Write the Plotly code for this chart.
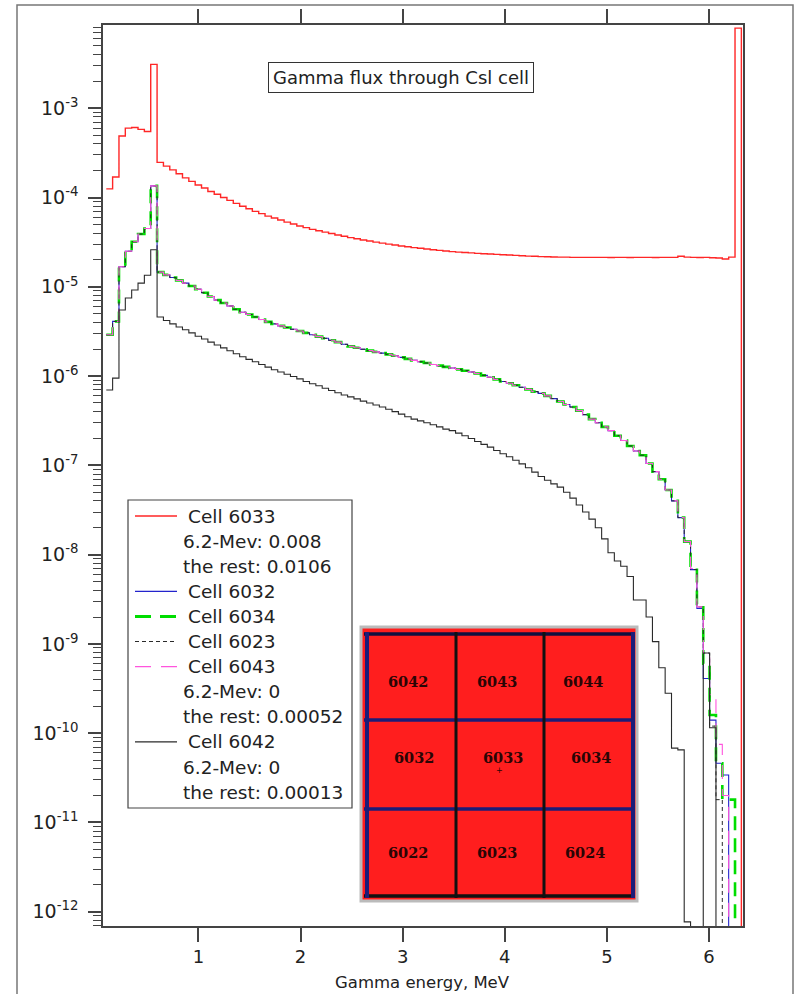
import plotly.graph_objects as go

# ---------------- data (histogram bins, left edge = bin_start + i*bin_width) ----------------
bin_start = 0.097
bin_width = 0.0622
Z = 1e-15  # empty bin (zero flux), drawn below the axis floor

cell6033 = [1.25e-4, 1.7e-4, 4.9e-4, 6.0e-4, 6.1e-4, 5.8e-4, 5.5e-4, 3.1e-3,
            2.48e-4, 2.25e-4, 2.04e-4, 1.85e-4, 1.66e-4, 1.52e-4, 1.38e-4, 1.28e-4, 1.17e-4, 1.09e-4,
            1.0e-4, 9.3e-5, 8.6e-5, 8.0e-5, 7.5e-5, 7.0e-5, 6.6e-5, 6.2e-5, 5.9e-5, 5.6e-5,
            5.3e-5, 5.05e-5, 4.8e-5, 4.6e-5, 4.4e-5, 4.25e-5, 4.1e-5, 3.95e-5, 3.8e-5, 3.68e-5,
            3.56e-5, 3.45e-5, 3.35e-5, 3.26e-5, 3.17e-5, 3.09e-5, 3.01e-5, 2.94e-5, 2.87e-5, 2.81e-5,
            2.75e-5, 2.70e-5, 2.65e-5, 2.60e-5, 2.56e-5, 2.52e-5, 2.48e-5, 2.45e-5, 2.42e-5, 2.40e-5,
            2.37e-5, 2.35e-5, 2.33e-5, 2.31e-5, 2.29e-5, 2.27e-5, 2.25e-5, 2.23e-5, 2.21e-5, 2.20e-5,
            2.18e-5, 2.17e-5, 2.16e-5, 2.15e-5, 2.15e-5, 2.14e-5, 2.14e-5, 2.14e-5, 2.14e-5, 2.14e-5,
            2.14e-5, 2.13e-5, 2.14e-5, 2.14e-5, 2.13e-5, 2.14e-5, 2.14e-5, 2.14e-5, 2.13e-5, 2.14e-5,
            2.14e-5, 2.14e-5, 2.20e-5, 2.15e-5, 2.14e-5, 2.13e-5, 2.14e-5, 2.12e-5, 2.10e-5, 2.05e-5,
            2.15e-5, 7.9e-3]

# the four neighbouring cells share practically the same spectrum up to ~5.8 MeV
neighbour_body = [2.9e-6, 4.1e-6, 1.68e-5, 2.5e-5, 3.2e-5, 3.9e-5, 4.5e-5, 1.35e-4,
                  1.46e-5, 1.36e-5, 1.27e-5, 1.18e-5, 1.1e-5, 1.02e-5, 9.4e-6, 8.6e-6, 7.8e-6, 7.1e-6,
                  6.6e-6, 6.1e-6, 5.6e-6, 5.2e-6, 4.9e-6, 4.6e-6, 4.3e-6, 4.05e-6, 3.85e-6, 3.65e-6,
                  3.5e-6, 3.35e-6, 3.2e-6, 3.05e-6, 2.9e-6, 2.77e-6, 2.65e-6, 2.52e-6, 2.4e-6, 2.27e-6,
                  2.15e-6, 2.08e-6, 2.0e-6, 1.93e-6, 1.87e-6, 1.81e-6, 1.75e-6, 1.69e-6, 1.62e-6, 1.56e-6,
                  1.5e-6, 1.45e-6, 1.4e-6, 1.35e-6, 1.31e-6, 1.27e-6, 1.23e-6, 1.19e-6, 1.15e-6, 1.11e-6,
                  1.07e-6, 1.02e-6, 9.7e-7, 9.2e-7, 8.7e-7, 8.3e-7, 7.9e-7, 7.5e-7, 7.1e-7, 6.7e-7,
                  6.4e-7, 6.0e-7, 5.6e-7, 5.2e-7, 4.8e-7, 4.5e-7, 4.1e-7, 3.7e-7, 3.3e-7, 3.0e-7,
                  2.7e-7, 2.45e-7, 2.15e-7, 1.9e-7, 1.65e-7, 1.45e-7, 1.3e-7, 1.05e-7, 8.5e-8, 7.0e-8,
                  5.3e-8, 4.0e-8, 2.6e-8, 1.4e-8]
cell6032 = neighbour_body + [6.8e-9, 2.5e-9, 4.1e-10, 1.4e-10, 4.6e-11, 3.4e-11, Z, Z]
cell6034 = neighbour_body + [7.5e-9, 2.8e-9, 6.0e-10, 1.6e-10, 4.6e-11, 1.8e-11, 1.8e-11, Z]
cell6023 = neighbour_body + [6.8e-9, 2.6e-9, 7.9e-10, 1.2e-10, 1.8e-11, Z, Z, Z]
cell6043 = neighbour_body + [7.0e-9, 2.6e-9, 7.0e-10, 2.7e-10, 7.5e-11, 2.0e-11, Z, Z]

cell6042 = [7.0e-7, 9.5e-7, 5.5e-6, 7.5e-6, 9.2e-6, 1.1e-5, 1.35e-5, 2.6e-5,
            4.6e-6, 4.2e-6, 3.85e-6, 3.55e-6, 3.3e-6, 3.05e-6, 2.8e-6, 2.6e-6, 2.4e-6, 2.23e-6,
            2.07e-6, 1.92e-6, 1.78e-6, 1.65e-6, 1.54e-6, 1.45e-6, 1.35e-6, 1.26e-6, 1.18e-6, 1.11e-6,
            1.05e-6, 9.9e-7, 9.3e-7, 8.7e-7, 8.2e-7, 7.8e-7, 7.3e-7, 6.9e-7, 6.5e-7, 6.15e-7,
            5.85e-7, 5.55e-7, 5.25e-7, 5.0e-7, 4.75e-7, 4.5e-7, 4.25e-7, 4.0e-7, 3.75e-7, 3.5e-7,
            3.3e-7, 3.15e-7, 3.0e-7, 2.85e-7, 2.7e-7, 2.55e-7, 2.45e-7, 2.3e-7, 2.15e-7, 2.0e-7,
            1.85e-7, 1.72e-7, 1.6e-7, 1.47e-7, 1.35e-7, 1.25e-7, 1.14e-7, 1.04e-7, 9.4e-8, 8.4e-8,
            7.5e-8, 6.8e-8, 6.2e-8, 5.7e-8, 5.0e-8, 4.3e-8, 3.6e-8, 3.0e-8, 2.5e-8, 2.0e-8,
            1.5e-8, 1.05e-8, 8.5e-9, 7.4e-9, 5.7e-9, 3.1e-9, 3.1e-9, 2.0e-9, 1.06e-9, 5.4e-10,
            2.8e-10, 6.8e-11, 6.5e-11, 7.7e-13, Z, Z, 7.9e-10, 1.15e-10, Z, Z, Z, Z]

legend_rows = ["Cell 6033", "6.2-Mev: 0.008", "the rest: 0.0106", "Cell 6032", "Cell 6034",
               "Cell 6023", "Cell 6043", "6.2-Mev: 0", "the rest: 0.00052", "Cell 6042",
               "6.2-Mev: 0", "the rest: 0.00013"]

grid_labels = [["6042", "6043", "6044"], ["6032", "6033", "6034"], ["6022", "6023", "6024"]]

x_ticks = [1, 2, 3, 4, 5, 6]
y_exponents = list(range(-12, -2))

# ---------------- layout geometry ----------------
W, H = 799, 994
L, R, T, B = 103, 56, 25, 68
PW, PH = W - L - R, H - T - B


def px(x):
    return (x - L) / PW


def py(y):
    return (H - B - y) / PH


RED = "#FF2626"
BLUE = "#2323CC"
GREEN = "#00DD00"
MAGENTA = "#FF55DD"
BLACK = "#2a2a2a"
AXIS = "#444444"
FONT = "DejaVu Sans"

styles = [
    (cell6033, "Cell 6033", RED, 1.4, "solid"),
    (cell6032, "Cell 6032", BLUE, 1.1, "solid"),
    (cell6034, "Cell 6034", GREEN, 2.6, "14px,8px"),
    (cell6023, "Cell 6023", BLACK, 1.0, "4px,3px"),
    (cell6043, "Cell 6043", MAGENTA, 1.1, "14px,10px"),
    (cell6042, "Cell 6042", BLACK, 1.1, "solid"),
]

fig = go.Figure()
for vals, name, color, width, dash in styles:
    fig.add_trace(go.Scatter(
        x0=bin_start, dx=bin_width, y=vals + [Z], mode="lines", name=name,
        line=dict(color=color, width=width, dash=dash, shape="hv", simplify=False),
        showlegend=False, hoverinfo="skip"))

shapes = []
annotations = []

# outer frame
shapes.append(dict(type="rect", xref="paper", yref="paper", x0=px(17), x1=px(793), y0=py(1000), y1=py(5),
                   line=dict(color="#777777", width=1.5), fillcolor="rgba(0,0,0,0)", layer="below"))

# title box
annotations.append(dict(xref="paper", yref="paper", x=px(401), y=py(77), text="Gamma flux through Csl cell",
                        showarrow=False, xanchor="center", yanchor="middle",
                        font=dict(family=FONT, size=18, color="#222"),
                        bordercolor="#333", borderwidth=1, borderpad=4, bgcolor="white"))

# x-axis title
annotations.append(dict(xref="paper", yref="paper", x=px(422), y=py(982), text="Gamma energy, MeV",
                        showarrow=False, xanchor="center", yanchor="middle",
                        font=dict(family=FONT, size=16.5, color="#222")))

# legend box
shapes.append(dict(type="rect", xref="paper", yref="paper", x0=px(128), x1=px(352), y0=py(808), y1=py(500),
                   line=dict(color="#444", width=1.2), fillcolor="white", layer="above"))
sample_style = {0: (RED, 1.3, "solid"), 3: (BLUE, 1.3, "solid"), 4: (GREEN, 3, "16px,9px"),
                5: (BLACK, 1.1, "4px,3px"), 6: (MAGENTA, 1.3, "16px,10px"), 9: (BLACK, 1.3, "solid")}
for i, txt in enumerate(legend_rows):
    yy = 516 + 25.1 * i
    if i in sample_style:
        c, w, d = sample_style[i]
        shapes.append(dict(type="line", xref="paper", yref="paper", x0=px(135), x1=px(177), y0=py(yy), y1=py(yy),
                           line=dict(color=c, width=w, dash=d), layer="above"))
        tx = 186
    else:
        tx = 181
    annotations.append(dict(xref="paper", yref="paper", x=px(tx), y=py(yy), text=txt, showarrow=False,
                            xanchor="left", yanchor="middle", font=dict(family=FONT, size=18.5, color="#222")))

# inset: 3x3 cell map
shapes.append(dict(type="rect", xref="paper", yref="paper", x0=px(361), x1=px(637), y0=py(901), y1=py(627),
                   line=dict(color="#BBBBBB", width=3), fillcolor="#FF1E1E", layer="above"))
NAVY = "#1c1c78"
for yy, col in [(634, "#101040"), (720, NAVY), (809, NAVY), (896, "#111111")]:
    shapes.append(dict(type="line", xref="paper", yref="paper", x0=px(364), x1=px(635), y0=py(yy), y1=py(yy),
                       line=dict(color=col, width=3.5), layer="above"))
for xx, col, w in [(367, NAVY, 4), (456, "#111111", 3), (544, "#111111", 3), (633, NAVY, 4)]:
    shapes.append(dict(type="line", xref="paper", yref="paper", x0=px(xx), x1=px(xx), y0=py(898), y1=py(632),
                       line=dict(color=col, width=w), layer="above"))
label_x = [[408, 497, 583], [414, 503, 591], [408, 497, 585]]
label_y = [681, 757, 852]
for r in range(3):
    for c in range(3):
        annotations.append(dict(xref="paper", yref="paper", x=px(label_x[r][c]), y=py(label_y[r]),
                                text="<b>" + grid_labels[r][c] + "</b>", showarrow=False,
                                xanchor="center", yanchor="middle",
                                font=dict(family="DejaVu Serif", size=14.5, color="#2a0505")))
annotations.append(dict(xref="paper", yref="paper", x=px(499), y=py(770), text="+", showarrow=False,
                        xanchor="center", yanchor="middle", font=dict(family=FONT, size=8, color="#2a0505")))

major_vals = [10.0 ** e for e in y_exponents]
major_text = ["10<sup>%d</sup>" % e for e in y_exponents]
minor_vals = [k * 10.0 ** e for e in range(-13, -2) for k in range(2, 10)]

fig.update_layout(
    width=W, height=H, autosize=False,
    margin=dict(l=L, r=R, t=T, b=B, pad=0),
    paper_bgcolor="white", plot_bgcolor="white",
    font=dict(family=FONT, color="#222"),
    showlegend=False,
    shapes=shapes, annotations=annotations,
    xaxis=dict(range=[0.065, 6.333], tickvals=x_ticks, ticks="outside", ticklen=14, tickwidth=1.5,
               tickcolor=AXIS, showline=True, linecolor=AXIS, linewidth=1.5, mirror="ticks",
               showgrid=False, zeroline=False, automargin=False,
               tickfont=dict(family=FONT, size=18, color="#222")),
    yaxis=dict(type="log", range=[-12.16, -2.067], tickvals=major_vals, ticktext=major_text,
               ticks="outside", ticklen=13, tickwidth=1.5, tickcolor=AXIS, showline=True, linecolor=AXIS,
               linewidth=1.5, mirror=True, showgrid=False, zeroline=False, ticklabelstandoff=6,
               automargin=False, tickfont=dict(family=FONT, size=19, color="#222"),
               minor=dict(tickvals=minor_vals, ticks="outside", ticklen=8, tickwidth=1.2, tickcolor=AXIS,
                          showgrid=False)),
)

fig.write_html("out.html", config={"displayModeBar": False})
